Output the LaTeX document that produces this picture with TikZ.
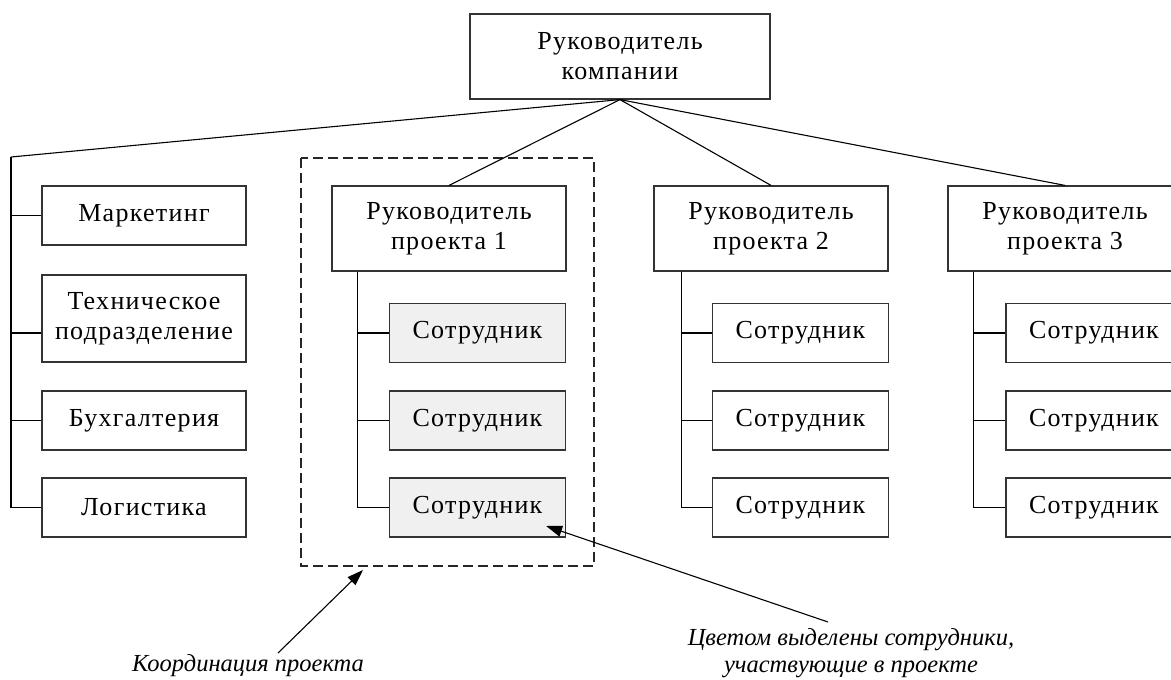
\documentclass[tikz,border=0pt]{standalone}
\usepackage{fontspec}
\setmainfont[LetterSpace=5]{Liberation Serif}
\newfontfamily\notefont{Liberation Serif}
\usetikzlibrary{arrows.meta}
\tikzset{
  box/.style={draw=black!80,line width=1.2pt,fill=white,align=center,inner sep=0pt,
    font=\fontsize{26}{30}\selectfont},
  staff/.style={box,minimum width=176pt,minimum height=59pt},
  staffsel/.style={staff,fill=black!6},
  dept/.style={box,minimum width=204pt,minimum height=59pt},
  head/.style={box,minimum width=234pt,minimum height=85pt},
  link/.style={line width=1.1pt},
  note/.style={align=center,font=\fontsize{24.5}{27}\notefont\itshape},
  pointer/.style={line width=1.1pt,-{Triangle[length=16pt,width=11pt]}}
}
\begin{document}
\begin{tikzpicture}[x=1pt,y=-1pt]
    \useasboundingbox (0,0) rectangle (1171,680);
    \node[box,minimum width=300pt,minimum height=85pt] (K) at (620,56.5) {Руководитель\\компании};
    \node[dept] (M) at (144,215.5) {Маркетинг};
    \node[dept,minimum height=87pt] (T) at (144,318.5) {Техническое\\подразделение};
    \node[dept] (B) at (144,420.5) {Бухгалтерия};
    \node[dept] (L) at (144,507.5) {Логистика};
    \node[head] (P1) at (449,228.5) {Руководитель\\проекта 1};
    \node[head] (P2) at (771,228.5) {Руководитель\\проекта 2};
    \node[head] (P3) at (1065,228.5) {Руководитель\\проекта 3};
    \node[staffsel] (S11) at (477.5,333) {Сотрудник};
    \node[staffsel] (S12) at (477.5,420.5) {Сотрудник};
    \node[staffsel] (S13) at (477.5,507.5) {Сотрудник};
    \node[staff] (S21) at (800.5,333) {Сотрудник};
    \node[staff] (S22) at (800.5,420.5) {Сотрудник};
    \node[staff] (S23) at (800.5,507.5) {Сотрудник};
    \node[staff] (S31) at (1094,333) {Сотрудник};
    \node[staff] (S32) at (1094,420.5) {Сотрудник};
    \node[staff] (S33) at (1094,507.5) {Сотрудник};
    \draw[black!85,line width=1.1pt,dash pattern=on 10pt off 5pt] (301,158) rectangle (594,566);
    \coordinate (C) at (11,157);
    \coordinate (V1) at ([xshift=26pt]P1.south west);
    \coordinate (V2) at ([xshift=28pt]P2.south west);
    \coordinate (V3) at ([xshift=26pt]P3.south west);
    \draw[link] (K.south) -- (C);
    \draw[link] (K.south) -- (P1.north);
    \draw[link] (K.south) -- (P2.north);
    \draw[link] (K.south) -- (P3.north);
    \draw[link] (C) |- (M.west);
    \draw[link] (C) |- ([yshift=-14.5pt]T.west);
    \draw[link] (C) |- (B.west);
    \draw[link] (C) |- (L.west);
    \draw[link] (V1) |- (S11.west); \draw[link] (V1) |- (S12.west); \draw[link] (V1) |- (S13.west);
    \draw[link] (V2) |- (S21.west); \draw[link] (V2) |- (S22.west); \draw[link] (V2) |- (S23.west);
    \draw[link] (V3) |- (S31.west); \draw[link] (V3) |- (S32.west); \draw[link] (V3) |- (S33.west);
    \node[note] (N1) at (248,666) {Координация проекта};
    \node[note] (N2) at (851,653) {Цветом выделены сотрудники,\\участвующие в проекте};
    \coordinate (A1) at (278,653);
    \coordinate (A2) at (828,622);
    \draw[pointer] (A1) -- (363,570);
    \draw[pointer] (A2) -- ([xshift=-20pt,yshift=-18.5pt]S13.east);
\end{tikzpicture}
\end{document}
